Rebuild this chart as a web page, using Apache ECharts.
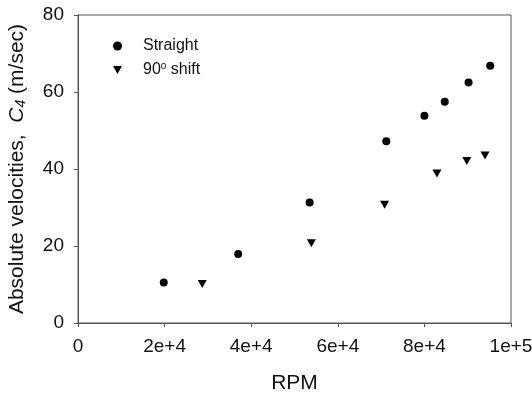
<!DOCTYPE html>
<html>
<head>
<meta charset="utf-8">
<script src="https://cdn.jsdelivr.net/npm/echarts@6/dist/echarts.min.js"></script>
<style>
  html, body { margin: 0; padding: 0; background: #fff; }
  #chart { width: 532px; height: 393px; }
</style>
</head>
<body>
<div id="chart"></div>
<script>
// values
const straightRpm = [19800, 37000, 53500, 71200, 80000, 84700, 90200, 95200]
const straightVel = [10.5, 17.9, 31.3, 47.2, 53.8, 57.5, 62.5, 66.8]
const shiftRpm = [28700, 53900, 70800, 82900, 89800, 94000]
const shiftVel = [10.1, 20.7, 30.7, 38.8, 42.1, 43.5]
const xTickLabels = ['0', '2e+4', '4e+4', '6e+4', '8e+4', '1e+5']

const font = 'Liberation Sans, Arial, sans-serif'
const ink = '#111'
const frame = '#555'
// downward triangle for the legend icon
const downTriangle = 'path://M0,0 L10,0 L5,9 Z'

function pairs(xs, ys) {
  return xs.map((x, i) => [x, ys[i]])
}

const chart = echarts.init(document.getElementById('chart'), null, { renderer: 'canvas' })

const option = {
  backgroundColor: '#fff',
  animation: false,
  textStyle: { fontFamily: font, color: ink },
  grid: {
    left: 78,
    right: 21,
    top: 15,
    bottom: 70,
    outerBoundsMode: 'none',
    containLabel: false,
    show: true,
    borderColor: frame,
    borderWidth: 1
  },
  legend: {
    orient: 'vertical',
    left: 108,
    top: 32,
    itemWidth: 9,
    itemHeight: 9,
    itemGap: 6,
    textStyle: {
      fontFamily: font,
      fontSize: 16,
      color: ink,
      lineHeight: 18,
      padding: [0, 0, 0, 16],
      rich: {
        sup: { fontSize: 10, fontFamily: font, color: ink, padding: [0, 0, 7, 0] }
      }
    },
    formatter: name => name === '90 shift' ? '90{sup|o} shift' : name,
    data: [
      { name: 'Straight', icon: 'circle' },
      { name: '90 shift', icon: downTriangle }
    ]
  },
  xAxis: {
    type: 'value',
    min: 0,
    max: 100000,
    interval: 20000,
    name: 'RPM',
    nameLocation: 'middle',
    nameGap: 50,
    nameTextStyle: { fontSize: 21, color: ink, fontFamily: font },
    axisLine: { show: true, lineStyle: { color: frame, width: 1 } },
    axisTick: { show: true, length: 4, lineStyle: { color: frame } },
    axisLabel: {
      fontSize: 19,
      color: ink,
      margin: 14,
      formatter: (v, i) => xTickLabels[i]
    },
    splitLine: { show: false }
  },
  yAxis: {
    type: 'value',
    min: 0,
    max: 80,
    interval: 20,
    name: 'Absolute velocities,  {c|C}{sub|4} (m/sec)',
    nameLocation: 'middle',
    nameGap: 50,
    nameTextStyle: {
      fontSize: 21,
      color: ink,
      fontFamily: font,
      rich: {
        c: { fontSize: 21, fontStyle: 'italic', fontFamily: font, color: ink },
        sub: { fontSize: 14, fontStyle: 'italic', fontFamily: font, color: ink, padding: [8, 0, 0, 0] }
      }
    },
    axisLine: { show: true, lineStyle: { color: frame, width: 1 } },
    axisTick: { show: true, length: 4, lineStyle: { color: frame } },
    axisLabel: { fontSize: 19, color: ink, margin: 14 },
    splitLine: { show: false }
  },
  series: [
    {
      name: 'Straight',
      type: 'scatter',
      symbol: 'circle',
      symbolSize: 8,
      itemStyle: { color: '#000', opacity: 1 },
      data: pairs(straightRpm, straightVel)
    },
    {
      name: '90 shift',
      type: 'scatter',
      symbol: 'triangle',
      symbolRotate: 180,
      symbolSize: [9, 8],
      itemStyle: { color: '#000', opacity: 1 },
      data: pairs(shiftRpm, shiftVel)
    }
  ]
}

chart.setOption(option)
</script>
</body>
</html>
